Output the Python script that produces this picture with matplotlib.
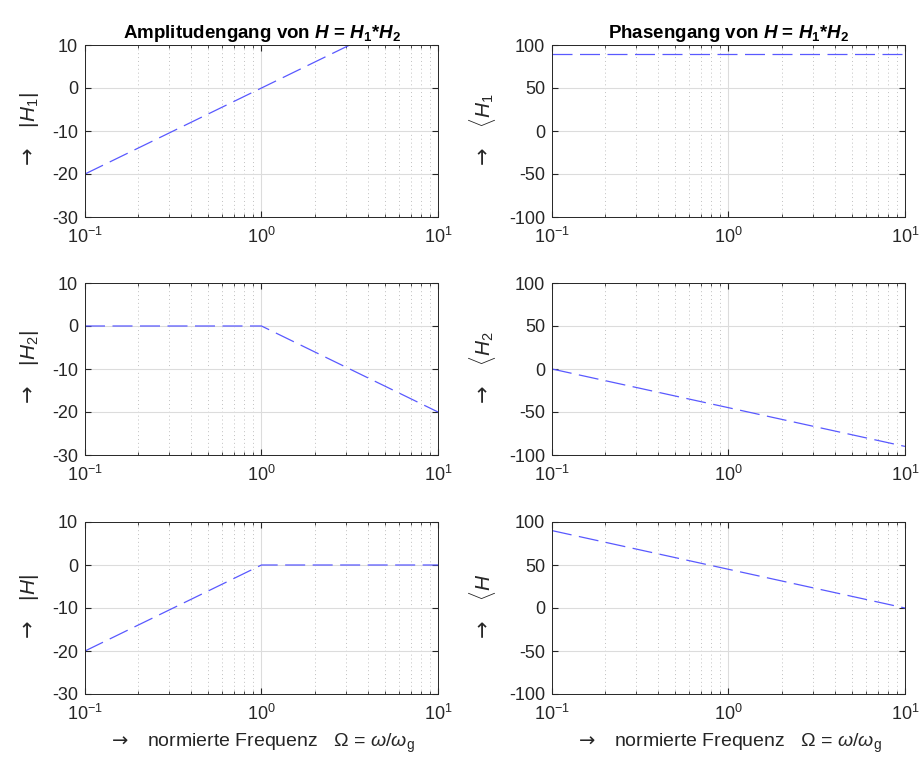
import numpy as np
import matplotlib
matplotlib.use("Agg")
import matplotlib.pyplot as plt

# normierte Frequenz (Knickpunkte der Asymptoten)
freq = [0.1, 1.0, 10.0]

mag_h1 = [-20, 0, 20]
mag_h2 = [0, 0, -20]
mag_h = [-20, 0, 0]

phase_h1 = [90, 90, 90]
phase_h2 = [0, -45, -90]
phase_h = [90, 45, 0]

plt.rcParams['font.family'] = ['Liberation Sans', 'DejaVu Sans']
plt.rcParams['mathtext.fontset'] = 'custom'
plt.rcParams['mathtext.rm'] = 'Liberation Sans'
plt.rcParams['mathtext.it'] = 'Liberation Sans:italic'
plt.rcParams['mathtext.bf'] = 'Liberation Sans:bold'
plt.rcParams['mathtext.bfit'] = 'Liberation Sans:bold:italic'
plt.rcParams['mathtext.sf'] = 'DejaVu Sans'
plt.rcParams['axes.unicode_minus'] = False

fig = plt.figure(figsize=(9.2, 7.65), dpi=100)

W, H = 920, 765
lefts = [85, 552]
width = 353
tops = [45, 283, 522]
height = 172

line_col = (0.35, 0.35, 1.0)
arrow = r'$\mathsf{\rightarrow}$'

panels = [
    (mag_h1, (-30, 10), [-30, -20, -10, 0, 10], arrow + '   $|H_1|$'),
    (phase_h1, (-100, 100), [-100, -50, 0, 50, 100], arrow + r'   $\langle H_1$'),
    (mag_h2, (-30, 10), [-30, -20, -10, 0, 10], arrow + '   $|H_2|$'),
    (phase_h2, (-100, 100), [-100, -50, 0, 50, 100], arrow + r'   $\langle H_2$'),
    (mag_h, (-30, 10), [-30, -20, -10, 0, 10], arrow + '   $|H|$'),
    (phase_h, (-100, 100), [-100, -50, 0, 50, 100], arrow + r'   $\langle H$'),
]

for i, (vals, ylim, yticks, ylab) in enumerate(panels):
    row, col = divmod(i, 2)
    ax = fig.add_axes([lefts[col] / W, 1 - (tops[row] + height) / H, width / W, height / H])
    ax.semilogx(freq, vals, linestyle=(0, (16, 6)), color=line_col, linewidth=0.9)
    ax.set_xlim(0.1, 10)
    ax.set_ylim(*ylim)
    ax.set_yticks(yticks)
    ax.set_xticks([0.1, 1, 10])
    ax.set_xticklabels([r'$10^{-1}$', r'$10^{0}$', r'$10^{1}$'])
    ax.grid(True, which='major', color='#dcdcdc', linewidth=0.8, linestyle='-')
    ax.grid(True, which='minor', axis='x', color='#c0c0c0', linewidth=0.7, linestyle=(0, (1, 3)))
    ax.set_axisbelow(True)
    ax.tick_params(which='both', direction='in', top=True, right=True, labelsize=13,
                   colors='#262626', length=4)
    ax.tick_params(axis='x', which='major', pad=7)
    ax.tick_params(axis='y', which='major', pad=5)
    ax.tick_params(which='minor', length=2.5)
    for s in ax.spines.values():
        s.set_color('#262626')
        s.set_linewidth(0.7)
    ax.set_ylabel(ylab, fontsize=15, color='#262626', labelpad=8)
    if row == 0:
        if col == 0:
            ax.set_title(r'Amplitudengang von $\mathbfit{H}$ = $\mathbfit{H}_\mathbf{1}$*$\mathbfit{H}_\mathbf{2}$',
                         fontsize=13.5, fontweight='bold', pad=5)
        else:
            ax.set_title(r'Phasengang von $\mathbfit{H}$ = $\mathbfit{H}_\mathbf{1}$*$\mathbfit{H}_\mathbf{2}$',
                         fontsize=13.5, fontweight='bold', pad=5)
    if row == 2:
        ax.set_xlabel(arrow + r'   normierte Frequenz   $\Omega$ = $\omega/\omega_\mathrm{g}$',
                      fontsize=14, color='#262626', labelpad=6)

fig.savefig('out.png', dpi=100, facecolor='white')
